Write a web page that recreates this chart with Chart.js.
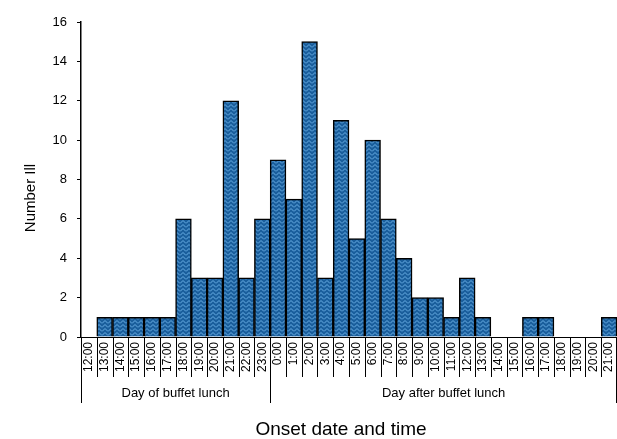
<!DOCTYPE html>
<html>
<head>
<meta charset="utf-8">
<script src="https://cdn.jsdelivr.net/npm/chart.js@4/dist/chart.umd.min.js"></script>
<style>
  html, body { margin: 0; padding: 0; background: #fff; }
  #wrap { width: 617px; height: 439px; position: relative; }
</style>
</head>
<body>
<div id="wrap"><canvas id="c"></canvas></div>
<script>
const timeLabels = ["12:00","13:00","14:00","15:00","16:00","17:00","18:00","19:00","20:00","21:00","22:00","23:00",
  "0:00","1:00","2:00","3:00","4:00","5:00","6:00","7:00","8:00","9:00","10:00","11:00","12:00","13:00","14:00","15:00","16:00","17:00","18:00","19:00","20:00","21:00"];
const counts = [0,1,1,1,1,1,6,3,3,12,3,6,
  9,7,15,3,11,5,10,6,4,2,2,1,3,1,0,0,1,1,0,0,0,1];
const groupNames = ["Day of buffet lunch", "Day after buffet lunch"];
const groupSizes = [12, 22];
const yTicks = [0,2,4,6,8,10,12,14,16];
const xTitle = "Onset date and time";
const yTitle = "Number Ill";

function makePattern() {
  const p = document.createElement('canvas');
  p.width = 6; p.height = 4;
  const g = p.getContext('2d');
  g.fillStyle = '#1a5e9c';
  g.fillRect(0, 0, 6, 4);
  g.strokeStyle = '#6aaee4';
  g.lineWidth = 1;
  g.beginPath();
  g.moveTo(0, 3.5); g.lineTo(3, 0.5); g.lineTo(6, 3.5);
  g.stroke();
  return document.createElement('canvas').getContext('2d').createPattern(p, 'repeat');
}

const FONT = "'Liberation Sans', Arial, sans-serif";

const groupPlugin = {
  id: 'groups',
  afterDraw(chart) {
    const ctx = chart.ctx;
    const xs = chart.scales.x;
    const yBase = chart.chartArea.bottom;
    const step = xs.getPixelForValue(1) - xs.getPixelForValue(0);
    const x0p = xs.getPixelForValue(0) - step / 2;
    ctx.save();
    ctx.strokeStyle = '#000';
    ctx.lineWidth = 1;
    for (let i = 0; i <= timeLabels.length; i++) {
      let x = Math.round(x0p + i * step) + 0.5;
      if (x > chart.width - 0.5) x = chart.width - 0.5;
      ctx.beginPath();
      ctx.moveTo(x, yBase);
      ctx.lineTo(x, yBase + 40);
      ctx.stroke();
    }
    ctx.fillStyle = '#000';
    ctx.font = "13px " + FONT;
    ctx.textAlign = 'center';
    ctx.textBaseline = 'middle';
    let start = 0;
    const bounds = [start];
    groupSizes.forEach(s => { start += s; bounds.push(start); });
    bounds.forEach(b => {
      let x = Math.round(x0p + b * step) + 0.5;
      if (x > chart.width - 0.5) x = chart.width - 0.5;
      ctx.beginPath();
      ctx.moveTo(x, yBase);
      ctx.lineTo(x, yBase + 66);
      ctx.stroke();
    });
    for (let g = 0; g < groupNames.length; g++) {
      const a = x0p + bounds[g] * step;
      const b = x0p + bounds[g + 1] * step;
      ctx.fillText(groupNames[g], (a + b) / 2, yBase + 56);
    }
    ctx.font = "19px " + FONT;
    ctx.fillText(xTitle, 341, 430);
    ctx.translate(31, 198);
    ctx.rotate(-Math.PI / 2);
    ctx.font = "15px " + FONT;
    ctx.fillText(yTitle, 0, 0);
    ctx.restore();
  }
};

new Chart(document.getElementById('c'), {
  type: 'bar',
  data: {
    labels: timeLabels,
    datasets: [{
      data: counts,
      backgroundColor: makePattern(),
      borderColor: '#000',
      borderWidth: 1.5,
      borderSkipped: 'bottom',
      categoryPercentage: 1.0,
      barPercentage: 1.0
    }]
  },
  options: {
    responsive: true,
    maintainAspectRatio: false,
    animation: false,
    events: [],
    layout: { padding: { top: 22, right: 0, left: 0, bottom: 67 } },
    plugins: { legend: { display: false }, tooltip: { enabled: false } },
    scales: {
      x: {
        afterFit(scale) { scale.paddingLeft = 0; scale.paddingRight = 0; scale.height = 35; },
        grid: { display: false, drawTicks: false },
        border: { display: true, color: '#000', width: 1 },
        ticks: {
          autoSkip: false,
          minRotation: 90, maxRotation: 90,
          padding: 5,
          color: '#000',
          font: { family: FONT, size: 12 }
        }
      },
      y: {
        min: 0, max: 16,
        afterBuildTicks(axis) { axis.ticks = yTicks.map(v => ({ value: v })); },
        afterFit(scale) { scale.width = 81; },
        grid: { display: true, drawOnChartArea: false, drawTicks: true, tickLength: 4, color: '#000' },
        border: { display: true, color: '#000', width: 1.5 },
        ticks: {
          padding: 10,
          color: '#000',
          font: { family: FONT, size: 13 }
        }
      }
    }
  },
  plugins: [groupPlugin]
});
</script>
</body>
</html>
